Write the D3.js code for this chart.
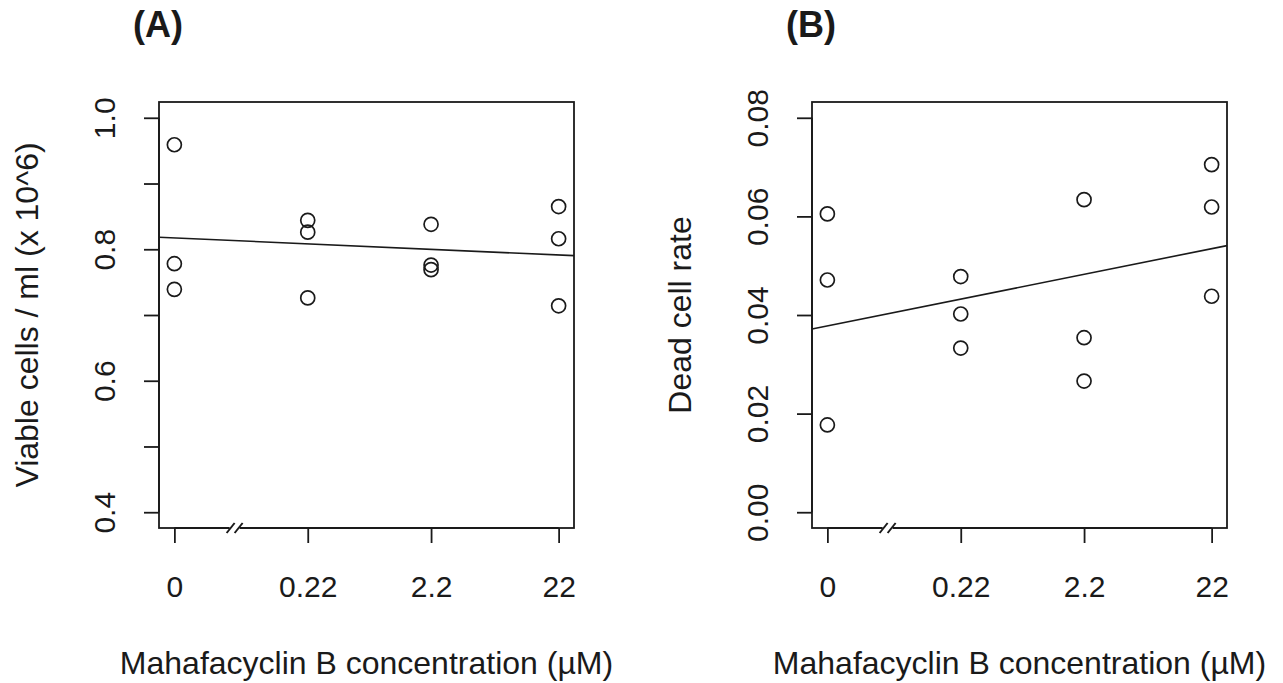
<!DOCTYPE html>
<html>
<head>
<meta charset="utf-8">
<script src="https://cdn.jsdelivr.net/npm/d3@7"></script>
<style>
  html, body { margin: 0; padding: 0; background: #fff; }
  svg { display: block; }
  text { font-family: "Liberation Sans", Arial, Helvetica, sans-serif; fill: #1a1a1a; }
</style>
</head>
<body>
<svg id="chart" width="1283" height="683"></svg>
<script>
// ---------------- data ----------------
const concentrations = [0, 0.22, 2.2, 22];            // µM, x categories
const concLabels = ["0", "0.22", "2.2", "22"];
const logOffset = 0.022;                              // x plotted as log10(conc + offset)
const axisBreakAt = 0.043;                            // concentration where the "//" break is drawn

// Panel A: viable cells / ml (x 10^6), three replicates per concentration
const viable0    = [0.959, 0.778, 0.739];
const viable022  = [0.844, 0.826, 0.726];
const viable22x  = [0.838, 0.776, 0.769];   // 2.2 µM
const viable22   = [0.865, 0.816, 0.714];

// Panel B: dead cell rate
const dead0    = [0.0605, 0.0471, 0.0177];
const dead022  = [0.0478, 0.0402, 0.0333];
const dead22x  = [0.0634, 0.0354, 0.0266];  // 2.2 µM
const dead22   = [0.0705, 0.0619, 0.0438];

const viableTicks = [0.4, 0.5, 0.6, 0.7, 0.8, 0.9, 1.0];
const viableTickLabels = ["0.4", "", "0.6", "", "0.8", "", "1.0"];
const viableLim = [0.4, 1.0];
const deadTicks = [0, 0.02, 0.04, 0.06, 0.08];
const deadTickLabels = ["0.00", "0.02", "0.04", "0.06", "0.08"];
const deadLim = [0, 0.08];

const panelTitles = ["(A)", "(B)"];
const yTitles = ["Viable cells / ml (x 10^6)", "Dead cell rate"];
const xTitle = "Mahafacyclin B concentration (\u00b5M)";

// ---------------- layout ----------------
const svg = d3.select("#chart");
const ink = "#1a1a1a";
const boxTop = 102, boxBottom = 528;
const panels = [
  { left: 159, right: 574, groups: [viable0, viable022, viable22x, viable22],
    ticks: viableTicks, tickLabels: viableTickLabels, lim: viableLim,
    title: panelTitles[0], yTitle: yTitles[0] },
  { left: 812, right: 1227, groups: [dead0, dead022, dead22x, dead22],
    ticks: deadTicks, tickLabels: deadTickLabels, lim: deadLim,
    title: panelTitles[1], yTitle: yTitles[1] }
];

const tx = c => Math.log10(c + logOffset);
const ext = ([a, b]) => { const d = (b - a) * 0.04; return [a - d, b + d]; };

panels.forEach(p => {
  const xs = concentrations.map(tx);
  const x = d3.scaleLinear().domain(ext(d3.extent(xs))).range([p.left, p.right]);
  const y = d3.scaleLinear().domain(ext(p.lim)).range([boxBottom, boxTop]);
  const g = svg.append("g");

  // points
  const pts = [];
  p.groups.forEach((vals, i) => vals.forEach(v => pts.push({ x: xs[i], y: v })));

  // regression line (least squares)
  const mx = d3.mean(pts, d => d.x), my = d3.mean(pts, d => d.y);
  const slope = d3.sum(pts, d => (d.x - mx) * (d.y - my)) / d3.sum(pts, d => (d.x - mx) ** 2);
  const icpt = my - slope * mx;
  const [x0, x1] = x.domain();
  g.append("line")
    .attr("x1", x(x0)).attr("y1", y(icpt + slope * x0))
    .attr("x2", x(x1)).attr("y2", y(icpt + slope * x1))
    .attr("stroke", ink).attr("stroke-width", 1.6);

  g.selectAll("circle.pt").data(pts).join("circle")
    .attr("class", "pt")
    .attr("cx", d => x(d.x)).attr("cy", d => y(d.y)).attr("r", 7)
    .attr("fill", "none").attr("stroke", ink).attr("stroke-width", 1.7);

  // box
  g.append("rect")
    .attr("x", p.left).attr("y", boxTop)
    .attr("width", p.right - p.left).attr("height", boxBottom - boxTop)
    .attr("fill", "none").attr("stroke", ink).attr("stroke-width", 1.8);

  // y axis
  const yAxis = d3.axisLeft(y).tickValues(p.ticks).tickSize(15).tickPadding(0)
    .tickFormat((d, i) => p.tickLabels[i]);
  const ya = g.append("g").attr("transform", `translate(${p.left},0)`).call(yAxis);
  ya.select(".domain").attr("d", `M0,${y(p.ticks[0])}V${y(p.ticks[p.ticks.length - 1])}`)
    .attr("stroke", ink).attr("stroke-width", 1.8);
  ya.selectAll(".tick line").attr("stroke", ink).attr("stroke-width", 1.8);
  ya.selectAll(".tick text")
    .attr("x", null).attr("dy", null)
    .attr("transform", "translate(-44.5,0) rotate(-90)")
    .attr("text-anchor", "middle")
    .style("font-size", "30px").style("font-family", "Liberation Sans, Arial, sans-serif")
    .attr("fill", ink);

  // x axis
  const xAxis = d3.axisBottom(x).tickValues(xs).tickSize(15).tickPadding(0)
    .tickFormat((d, i) => concLabels[i]);
  const xa = g.append("g").attr("transform", `translate(0,${boxBottom})`).call(xAxis);
  xa.select(".domain").attr("d", `M${x(xs[0])},0H${x(xs[xs.length - 1])}`)
    .attr("stroke", ink).attr("stroke-width", 1.8);
  xa.selectAll(".tick line").attr("stroke", ink).attr("stroke-width", 1.8);
  xa.selectAll(".tick text")
    .attr("y", 69).attr("dy", null)
    .style("font-size", "30px").style("font-family", "Liberation Sans, Arial, sans-serif")
    .attr("fill", ink);

  // axis break "//"
  const bx = x(tx(axisBreakAt));
  g.append("rect").attr("x", bx - 5).attr("y", boxBottom - 3).attr("width", 10).attr("height", 6)
    .attr("fill", "#fff");
  [-4, 4].forEach(o => {
    g.append("line")
      .attr("x1", bx + o - 4).attr("y1", boxBottom + 5)
      .attr("x2", bx + o + 4).attr("y2", boxBottom - 5)
      .attr("stroke", ink).attr("stroke-width", 2);
  });

  // titles
  g.append("text").attr("x", (p.left + p.right) / 2).attr("y", 674)
    .attr("text-anchor", "middle").style("font-size", "32px").text(xTitle);
  g.append("text")
    .attr("transform", `translate(${p.left - 121},${(boxTop + boxBottom) / 2}) rotate(-90)`)
    .attr("text-anchor", "middle").style("font-size", "32px").text(p.yTitle);
  g.append("text").attr("x", p.left - 26).attr("y", 37)
    .style("font-size", "36px").style("font-weight", "bold").text(p.title);
});
</script>
</body>
</html>
